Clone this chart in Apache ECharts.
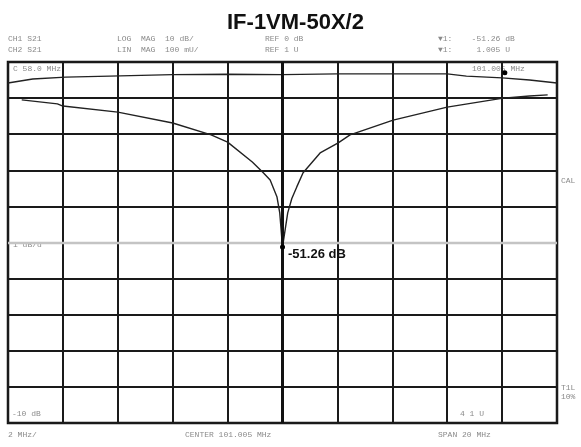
<!DOCTYPE html>
<html>
<head>
<meta charset="utf-8">
<script src="https://cdn.jsdelivr.net/npm/echarts@6/dist/echarts.min.js"></script>
<style>
  html, body { margin: 0; padding: 0; background: #fff; }
  #chart { width: 581px; height: 447px; }
</style>
</head>
<body>
<div id="chart"></div>
<script>
// frequency offset from center (MHz), center 101.005 MHz, span 20 MHz
const logFreq = [-9.5, -8.2, -8.0, -6.0, -4.0, -2.6, -2.0, -1.1, -0.7, -0.45, -0.2, -0.1, 0,
                 0.19, 0.34, 0.52, 0.75, 1.37, 2.03, 2.46, 4.03, 6.0, 8.04, 9.0, 9.66];
// CH1 log magnitude (dB)
const logMag = [-10.5, -11.6, -12.2, -13.9, -16.9, -20.2, -22.2, -27.7, -30.7, -32.7, -37.4, -41.8, -51.26,
                -41.8, -37.8, -34.6, -30.7, -25.2, -22.4, -20.2, -16.1, -12.5, -10.0, -9.4, -9.1];
// CH2 linear magnitude (U)
const linFreq = [-10, -9.1, -7.9, -6.3, -4.0, -2.0, 0, 2.0, 4.0, 6.0, 6.7, 8.0, 9.0, 10];
const linMag = [0.982, 0.993, 0.998, 1.001, 1.005, 1.006, 1.005, 1.007, 1.007, 1.007, 1.001, 0.996, 0.99, 0.982];

const markerText = '-51.26 dB';
const titleText = 'IF-1VM-50X/2';

const chart = echarts.init(document.getElementById('chart'));
const grey = '#8a8a8a';
const mono = '"Liberation Mono", "DejaVu Sans Mono", monospace';

function txt(x, y, s, opts) {
  return Object.assign({
    type: 'text', left: x, top: y, silent: true,
    style: { text: s, fill: grey, font: '8px ' + mono }
  }, opts || {});
}

chart.setOption({
  backgroundColor: '#fff',
  animation: false,
  title: {
    text: titleText, left: 222, top: 7,
    textStyle: { fontFamily: '"Liberation Sans", Arial', fontWeight: 'bold', fontSize: 22, color: '#111' }
  },
  grid: {
    left: 8, right: 24, top: 62, bottom: 24,
    show: true, borderColor: '#111', borderWidth: 2.5
  },
  xAxis: {
    type: 'value', min: -10, max: 10, interval: 2,
    axisLine: { show: false }, axisTick: { show: false }, axisLabel: { show: false },
    splitLine: { lineStyle: { color: '#1a1a1a', width: 2 } }
  },
  yAxis: [{
    type: 'value', min: -100, max: 0, interval: 10,
    axisLine: { show: false }, axisTick: { show: false }, axisLabel: { show: false },
    splitLine: { lineStyle: { color: '#1a1a1a', width: 2 } }
  }, {
    type: 'value', min: 0.04, max: 1.04, show: false,
    splitLine: { show: false }
  }],
  series: [{
    type: 'line', yAxisIndex: 0, symbol: 'none',
    data: logFreq.map((f, i) => [f, logMag[i]]),
    lineStyle: { color: '#222', width: 1.4 },
    markLine: {
      silent: true, symbol: 'none', label: { show: false },
      data: [
        { yAxis: -50, lineStyle: { color: '#c4c4c4', width: 2.4, type: 'solid' } },
        { xAxis: 0, lineStyle: { color: '#111', width: 3, type: 'solid' } }
      ]
    },
    markPoint: {
      symbol: 'circle', symbolSize: 5, itemStyle: { color: '#000' },
      data: [{ coord: [0, -51.26] }],
      label: {
        show: true, formatter: markerText, position: 'right', offset: [-2, 7],
        fontFamily: '"Liberation Sans", Arial', fontWeight: 'bold', fontSize: 13, color: '#111'
      }
    }
  }, {
    type: 'line', yAxisIndex: 1, symbol: 'none',
    data: linFreq.map((f, i) => [f, linMag[i]]),
    lineStyle: { color: '#222', width: 1.4 },
    markPoint: {
      symbol: 'circle', symbolSize: 5, itemStyle: { color: '#000' },
      data: [{ coord: [8.1, 1.01] }], label: { show: false }
    }
  }],
  graphic: [
    txt(8, 35, 'CH1 S21'), txt(8, 46, 'CH2 S21'),
    txt(117, 35, 'LOG  MAG  10 dB/'), txt(117, 46, 'LIN  MAG  100 mU/'),
    txt(265, 35, 'REF 0 dB'), txt(265, 46, 'REF 1 U'),
    txt(438, 35, '\u25BC1:    -51.26 dB'), txt(438, 46, '\u25BC1:     1.005 U'),
    txt(13, 65, 'C 58.0 MHz'), txt(472, 65, '101.005 MHz'),
    txt(13, 241, '1 dB/d'),
    txt(12, 410, '-10 dB'), txt(460, 410, '4 1 U'),
    txt(561, 177, 'CAL'), txt(561, 384, 'T1L'), txt(561, 393, '10%'),
    txt(8, 431, '2 MHz/'), txt(185, 431, 'CENTER 101.005 MHz'), txt(438, 431, 'SPAN 20 MHz')
  ]
});
</script>
</body>
</html>
